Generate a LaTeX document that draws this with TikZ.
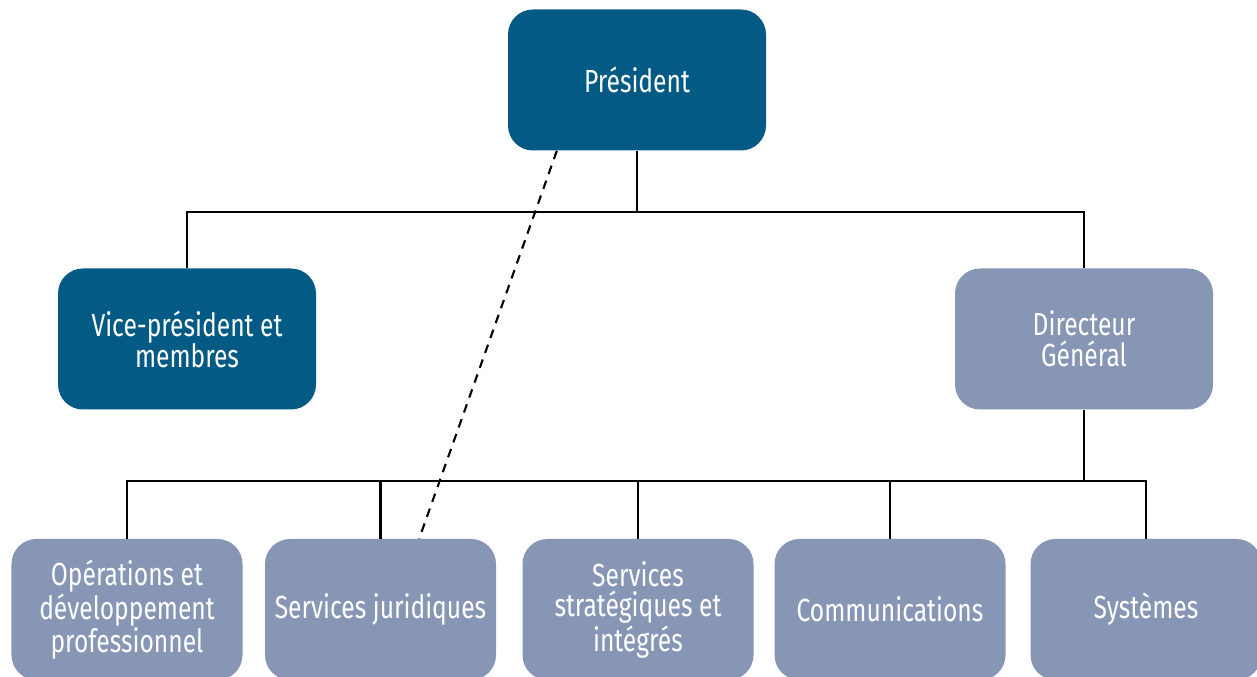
\documentclass[tikz,border=0pt]{standalone}
\usepackage{fontspec}
\setmainfont{Fira Sans}[FakeStretch=0.77]
\usetikzlibrary{calc}

\definecolor{darkblue}{RGB}{3,90,132}
\definecolor{greyblue}{RGB}{135,150,181}

\begin{document}
\begin{tikzpicture}[
        box/.style={rounded corners=0.5cm, minimum width=5.16cm, minimum height=2.82cm,
            text=white, align=center, font=\fontsize{18.2}{17.6}\selectfont, inner sep=0pt},
        headbox/.style={box, fill=darkblue},
        unitbox/.style={box, fill=greyblue, minimum width=4.62cm},
        link/.style={line width=1.2pt, black}
    ]
        % Fix the frame of the picture
        \useasboundingbox (0,0) rectangle (25.14,13.54);

        % Define the heights of the levels
        \def\ytop{11.94}   % president row
        \def\ymid{6.76}    % second row
        \def\ybot{1.35}    % units row

        % Draw the boxes
        \node[headbox] (pres) at (12.74,\ytop) {Président};
        \node[headbox] (vp) at (3.74,\ymid) {Vice-président et\\membres};
        \node[box, fill=greyblue] (dg) at (21.68,\ymid) {Directeur\\Général};

        \node[unitbox] (ops) at (2.54,\ybot) {Opérations et\\développement\\professionnel};
        \node[unitbox] (jur) at (7.61,\ybot) {Services juridiques};
        \node[unitbox] (strat) at (12.76,\ybot) {Services\\stratégiques et\\intégrés};
        \node[unitbox] (comm) at (17.80,\ybot) {Communications};
        \node[unitbox] (sys) at (22.92,\ybot) {Systèmes};

        % Bus points of the tree
        \coordinate (T) at (pres.south |- 0,9.30);
        \coordinate (B) at (dg.south |- 0,3.92);

        % Draw the solid links
        \draw[link] (pres.south) -- (T);
        \draw[link] (vp.north) |- (T) -| (dg.north);
        \draw[link] (dg.south) -- (B);
        \draw[link] (B) -| (ops.north);
        \draw[link] (B) -| (jur.north);
        \draw[link] (B) -| (strat.north);
        \draw[link] (B) -| (comm.north);
        \draw[link] (B) -| (sys.north);

        % Draw the dashed link
        \draw[link, dash pattern=on 5pt off 4pt]
            ($(pres.south west)!0.19!(pres.south east)$) -- ($(jur.north west)!0.667!(jur.north east)$);
\end{tikzpicture}
\end{document}
